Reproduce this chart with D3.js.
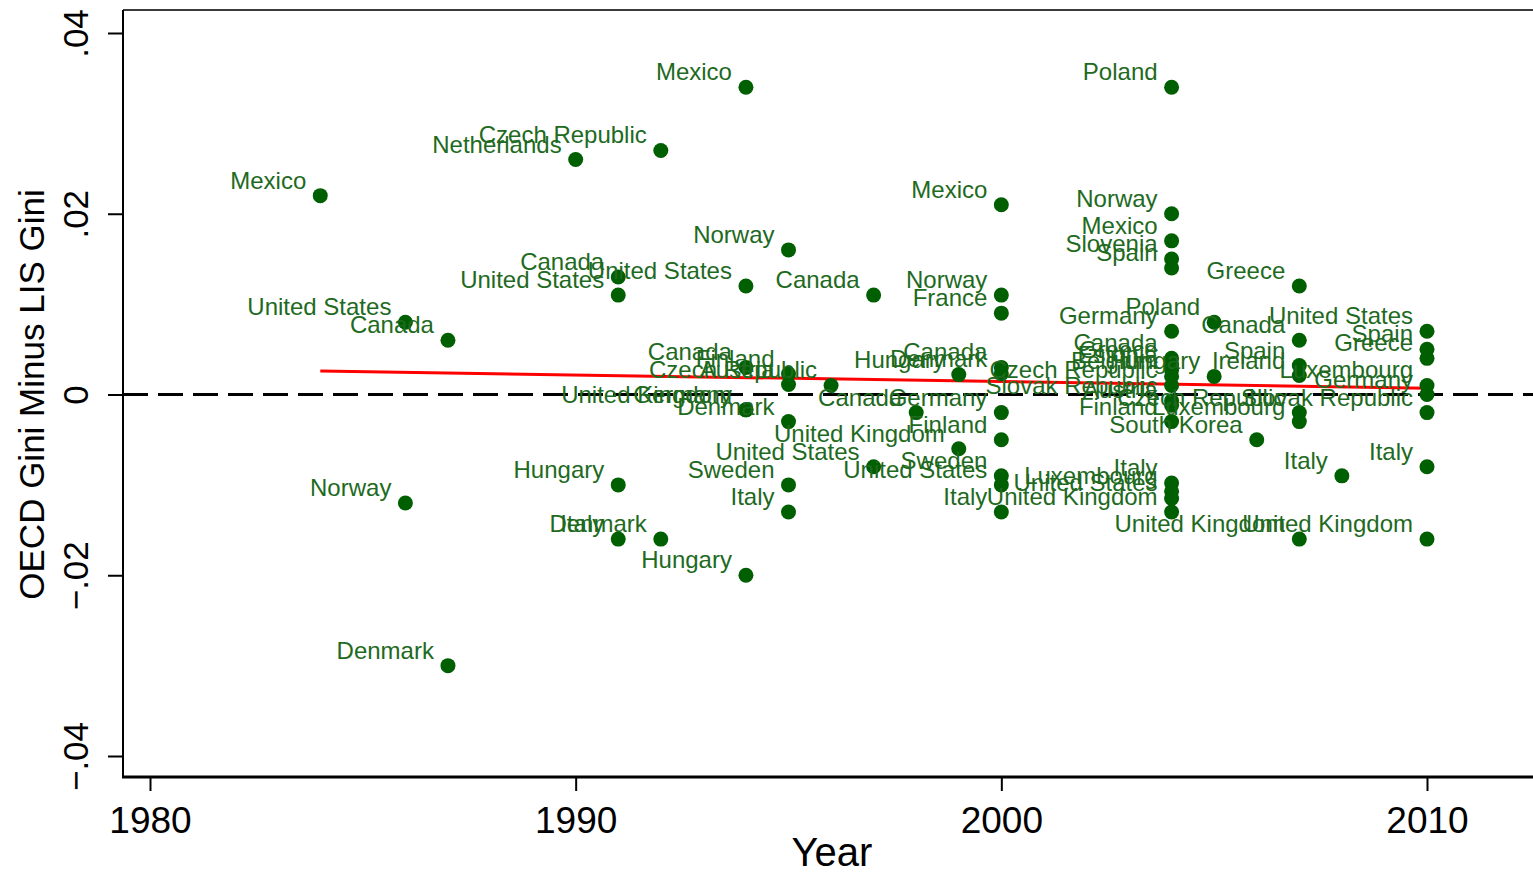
<!DOCTYPE html>
<html>
<head>
<meta charset="utf-8">
<script src="https://cdn.jsdelivr.net/npm/d3@7"></script>
<style>
  body { margin: 0; background: #fff; }
  svg { display: block; font-family: "Liberation Sans", Arial, sans-serif; }
</style>
</head>
<body>
<svg id="chart" width="1533" height="872"></svg>
<script>
// survey year, OECD Gini minus LIS Gini, country (parallel arrays)
const years = [
  1984, 1986, 1986, 1987, 1987, 1990, 1991, 1991, 1991, 1991, 1992, 1992,
  1994, 1994, 1994, 1994, 1994, 1994, 1995, 1995, 1995, 1995, 1995, 1995,
  1996, 1997, 1997, 1998, 1999, 1999,
  2000, 2000, 2000, 2000, 2000, 2000, 2000, 2000, 2000, 2000,
  2004, 2004, 2004, 2004, 2004, 2004, 2004, 2004, 2004, 2004, 2004, 2004,
  2004, 2004, 2004, 2004, 2004, 2004,
  2005, 2005, 2006, 2007, 2007, 2007, 2007, 2007, 2007, 2007, 2008,
  2010, 2010, 2010, 2010, 2010, 2010, 2010, 2010
];
const gaps = [
  0.022, 0.008, -0.012, 0.006, -0.030, 0.026, 0.013, 0.011, -0.010, -0.016, 0.027, -0.016,
  0.034, 0.012, 0.003, -0.0017, -0.0017, -0.020, 0.016, 0.0023, 0.0011, -0.003, -0.010, -0.013,
  0.001, 0.011, -0.008, -0.002, 0.0022, -0.006,
  0.021, 0.011, 0.009, 0.003, 0.0023, -0.002, -0.005, -0.009, -0.010, -0.013,
  0.034, 0.020, 0.017, 0.015, 0.014, 0.007, 0.004, 0.0033, 0.0027, 0.001, -0.0007, -0.0012,
  -0.003, -0.0098, -0.0107, -0.0115, -0.013, 0.002,
  0.008, 0.002, -0.005, 0.012, 0.006, 0.0032, 0.0021, -0.002, -0.003, -0.016, -0.009,
  0.007, 0.005, 0.004, 0.001, 0.0, -0.002, -0.008, -0.016
];
const countries = [
  "Mexico", "United States", "Norway", "Canada", "Denmark", "Netherlands", "Canada", "United States", "Hungary", "Italy", "Czech Republic", "Denmark",
  "Mexico", "United States", "Canada", "United Kingdom", "Germany", "Hungary", "Norway", "Finland", "Austria", "Denmark", "Sweden", "Italy",
  "Czech Republic", "Canada", "United States", "Canada", "Hungary", "United Kingdom",
  "Mexico", "Norway", "France", "Canada", "Denmark", "Germany", "Finland", "Sweden", "United States", "Italy",
  "Poland", "Norway", "Mexico", "Slovenia", "Spain", "Germany", "Canada", "Greece", "Estonia", "Czech Republic", "Slovak Republic", "Austria",
  "Finland", "Italy", "Luxembourg", "United States", "United Kingdom", "Belgium",
  "Poland", "Hungary", "South Korea", "Greece", "Canada", "Spain", "Ireland", "Czech Republic", "Luxembourg", "United Kingdom", "Italy",
  "United States", "Spain", "Greece", "Luxembourg", "Germany", "Slovak Republic", "Italy", "United Kingdom"
];

// fitted line end points
const fitYears = [1984, 2010];
const fitGaps = [0.0026, 0.0007];

const xTicks = [1980, 1990, 2000, 2010];
const yTicks = [-0.04, -0.02, 0, 0.02, 0.04];

const svg = d3.select("#chart");
const frame = { left: 123, right: 1533, top: 10, bottom: 777 };

const x = d3.scaleLinear().domain([1980, 2010]).range([150, 1427]);
const y = d3.scaleLinear().domain([-0.04, 0.04]).range([756, 33]);

const points = years.map((yr, i) => ({ year: yr, gap: gaps[i], country: countries[i] }));

// plot frame
svg.append("line")
    .attr("x1", frame.left).attr("x2", frame.right)
    .attr("y1", frame.top).attr("y2", frame.top)
    .attr("stroke", "#3a3a3a").attr("stroke-width", 2);

// zero reference
svg.append("line")
    .attr("x1", frame.left).attr("x2", frame.right)
    .attr("y1", y(0)).attr("y2", y(0))
    .attr("stroke", "#000").attr("stroke-width", 3)
    .attr("stroke-dasharray", "25,10");

// axes
const fmtY = d => d === 0 ? "0" : d3.format(".2f")(d).replace("0.", ".");

const yAxis = svg.append("g")
    .attr("transform", `translate(${frame.left},0)`)
    .call(d3.axisLeft(y).tickValues(yTicks).tickSize(15).tickFormat(fmtY));
yAxis.select(".domain").remove();
yAxis.selectAll(".tick line").attr("stroke", "#000").attr("stroke-width", 2);
yAxis.selectAll(".tick text")
    .attr("x", 0).attr("y", 0).attr("dy", null)
    .attr("text-anchor", "middle")
    .attr("transform", "translate(-35,0) rotate(-90)")
    .attr("font-size", 35).attr("fill", "#000");

const xAxis = svg.append("g")
    .attr("transform", `translate(0,${frame.bottom})`)
    .call(d3.axisBottom(x).tickValues(xTicks).tickSize(14).tickFormat(d3.format("d")));
xAxis.select(".domain").remove();
xAxis.selectAll(".tick line").attr("stroke", "#000").attr("stroke-width", 2);
xAxis.selectAll(".tick text")
    .attr("y", 56).attr("dy", null)
    .attr("font-size", 37).attr("fill", "#000");

svg.append("line")
    .attr("x1", frame.left).attr("x2", frame.left)
    .attr("y1", frame.top).attr("y2", frame.bottom + 1)
    .attr("stroke", "#000").attr("stroke-width", 2);
svg.append("line")
    .attr("x1", frame.left - 1).attr("x2", frame.right)
    .attr("y1", frame.bottom).attr("y2", frame.bottom)
    .attr("stroke", "#000").attr("stroke-width", 3);

// axis titles
svg.append("text")
    .attr("transform", `translate(44,${y(0)}) rotate(-90)`)
    .attr("text-anchor", "middle")
    .attr("font-size", 35)
    .text("OECD Gini Minus LIS Gini");

svg.append("text")
    .attr("x", 832).attr("y", 866)
    .attr("text-anchor", "middle")
    .attr("font-size", 40)
    .text("Year");

// fitted line
const fit = fitYears.map((yr, i) => [x(yr), y(fitGaps[i])]);
svg.append("path")
    .attr("d", d3.line()(fit))
    .attr("fill", "none")
    .attr("stroke", "#ff0000")
    .attr("stroke-width", 3);

// markers and labels
const marks = svg.append("g");
marks.selectAll("circle")
    .data(points)
    .join("circle")
    .attr("cx", d => x(d.year))
    .attr("cy", d => y(d.gap))
    .attr("r", 7.5)
    .attr("fill", "#005f00");

marks.selectAll("text")
    .data(points)
    .join("text")
    .attr("x", d => x(d.year) - 14)
    .attr("y", d => y(d.gap) - 7)
    .attr("text-anchor", "end")
    .attr("font-size", 24)
    .attr("fill", "#1e6a1e")
    .text(d => d.country);
</script>
</body>
</html>
